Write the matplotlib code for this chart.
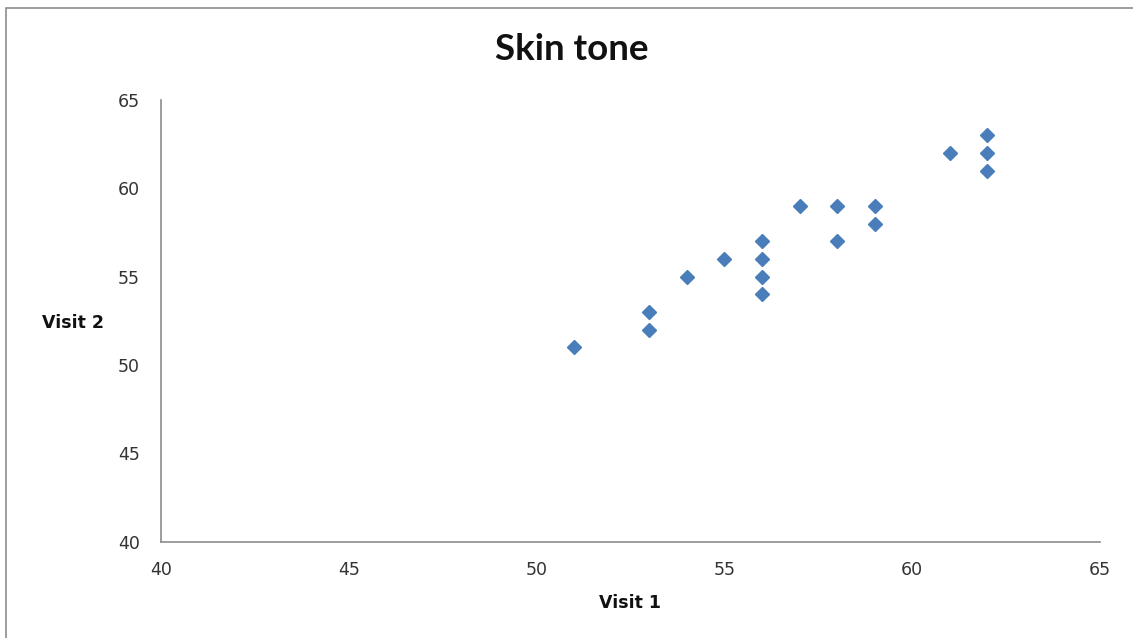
import matplotlib.pyplot as plt
from matplotlib.patches import Rectangle

# Medidas de tom de pele nas duas visitas
visita1 = [51, 53, 53, 54, 55, 56, 56, 56, 56, 57, 58, 58, 59, 59, 61, 62, 62, 62]
visita2 = [51, 53, 52, 55, 56, 57, 56, 55, 54, 59, 59, 57, 59, 58, 62, 63, 62, 61]
ticks = [40, 45, 50, 55, 60, 65]

plt.rcParams['font.family'] = ['DejaVu Sans']

fig = plt.figure(figsize=(11.33, 6.38), dpi=100)
ax = fig.add_axes([0.142, 0.151, 0.829, 0.692])

# Borda externa do gráfico
fig.patches.append(Rectangle((0.005, -0.01), 1.2, 0.998, transform=fig.transFigure,
                             fill=False, edgecolor='#8c8c8c', linewidth=1.2))

ax.plot(visita1, visita2, linestyle='none', marker='D', markersize=7.5,
        color='#4a7ebb', markeredgecolor='#4a7ebb')

ax.set_xlim(40, 65)
ax.set_ylim(40, 65)
ax.set_xticks(ticks)
ax.set_yticks(ticks)
ax.tick_params(length=0, labelsize=12.5, colors='#333333')
ax.tick_params(axis='x', pad=14)
ax.tick_params(axis='y', pad=15)

for lado in ['top', 'right']:
    ax.spines[lado].set_visible(False)
for lado in ['left', 'bottom']:
    ax.spines[lado].set_color('#8c8c8c')
    ax.spines[lado].set_linewidth(1.2)

fig.text(0.505, 0.923, 'Skin tone', ha='center', va='center', family='Lato',
         fontsize=26.5, fontweight='bold', color='#111111')
fig.text(0.064, 0.494, 'Visit 2', ha='center', va='center',
         fontsize=12.5, fontweight='bold', color='#111111')
fig.text(0.556, 0.055, 'Visit 1', ha='center', va='center',
         fontsize=12.5, fontweight='bold', color='#111111')

fig.savefig('out.png', dpi=100)
